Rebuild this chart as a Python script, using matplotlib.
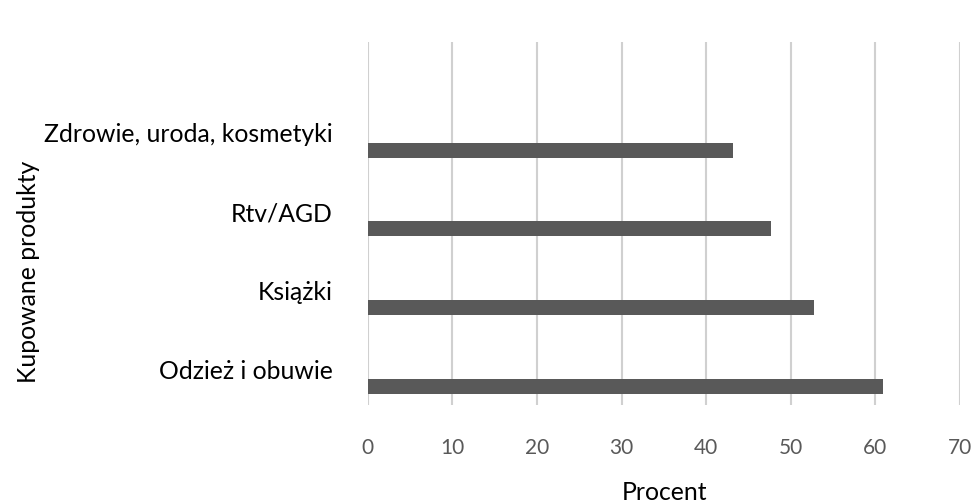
import numpy as np
import matplotlib.pyplot as plt

plt.rcParams['font.family'] = ['Lato', 'DejaVu Sans']

categories = ['Odzież i obuwie', 'Książki', 'Rtv/AGD', 'Zdrowie, uroda, kosmetyki']
values = [60.9, 52.7, 47.7, 43.2]
xticks = [0, 10, 20, 30, 40, 50, 60, 70]

fig = plt.figure(figsize=(9.73, 5.04), dpi=100)
ax = fig.add_axes([0.378, 0.1964, 0.6086, 0.7203])

pos = np.arange(len(categories))
ax.barh(pos - 0.22, values, height=0.19, color='#595959', zorder=3)

ax.set_xlim(0, 70)
ax.set_ylim(-0.457, 4.155)
ax.set_xticks(xticks)
ax.set_xticklabels([str(t) for t in xticks], fontsize=15, color='#595959')
ax.set_yticks(pos)
ax.set_yticklabels(categories, fontsize=17.8, color='black')
ax.tick_params(axis='both', length=0)
ax.tick_params(axis='x', pad=24)
ax.tick_params(axis='y', pad=25)

ax.grid(axis='x', color='#d0d0d0', linewidth=1.5, zorder=0)
for s in ax.spines.values():
    s.set_visible(False)

fig.text(0.683, 0.022, 'Procent', fontsize=17.8, ha='center', va='center')
fig.text(0.029, 0.46, 'Kupowane produkty', rotation=90, fontsize=17.8,
         ha='center', va='center')

fig.savefig('out.png', dpi=100)
